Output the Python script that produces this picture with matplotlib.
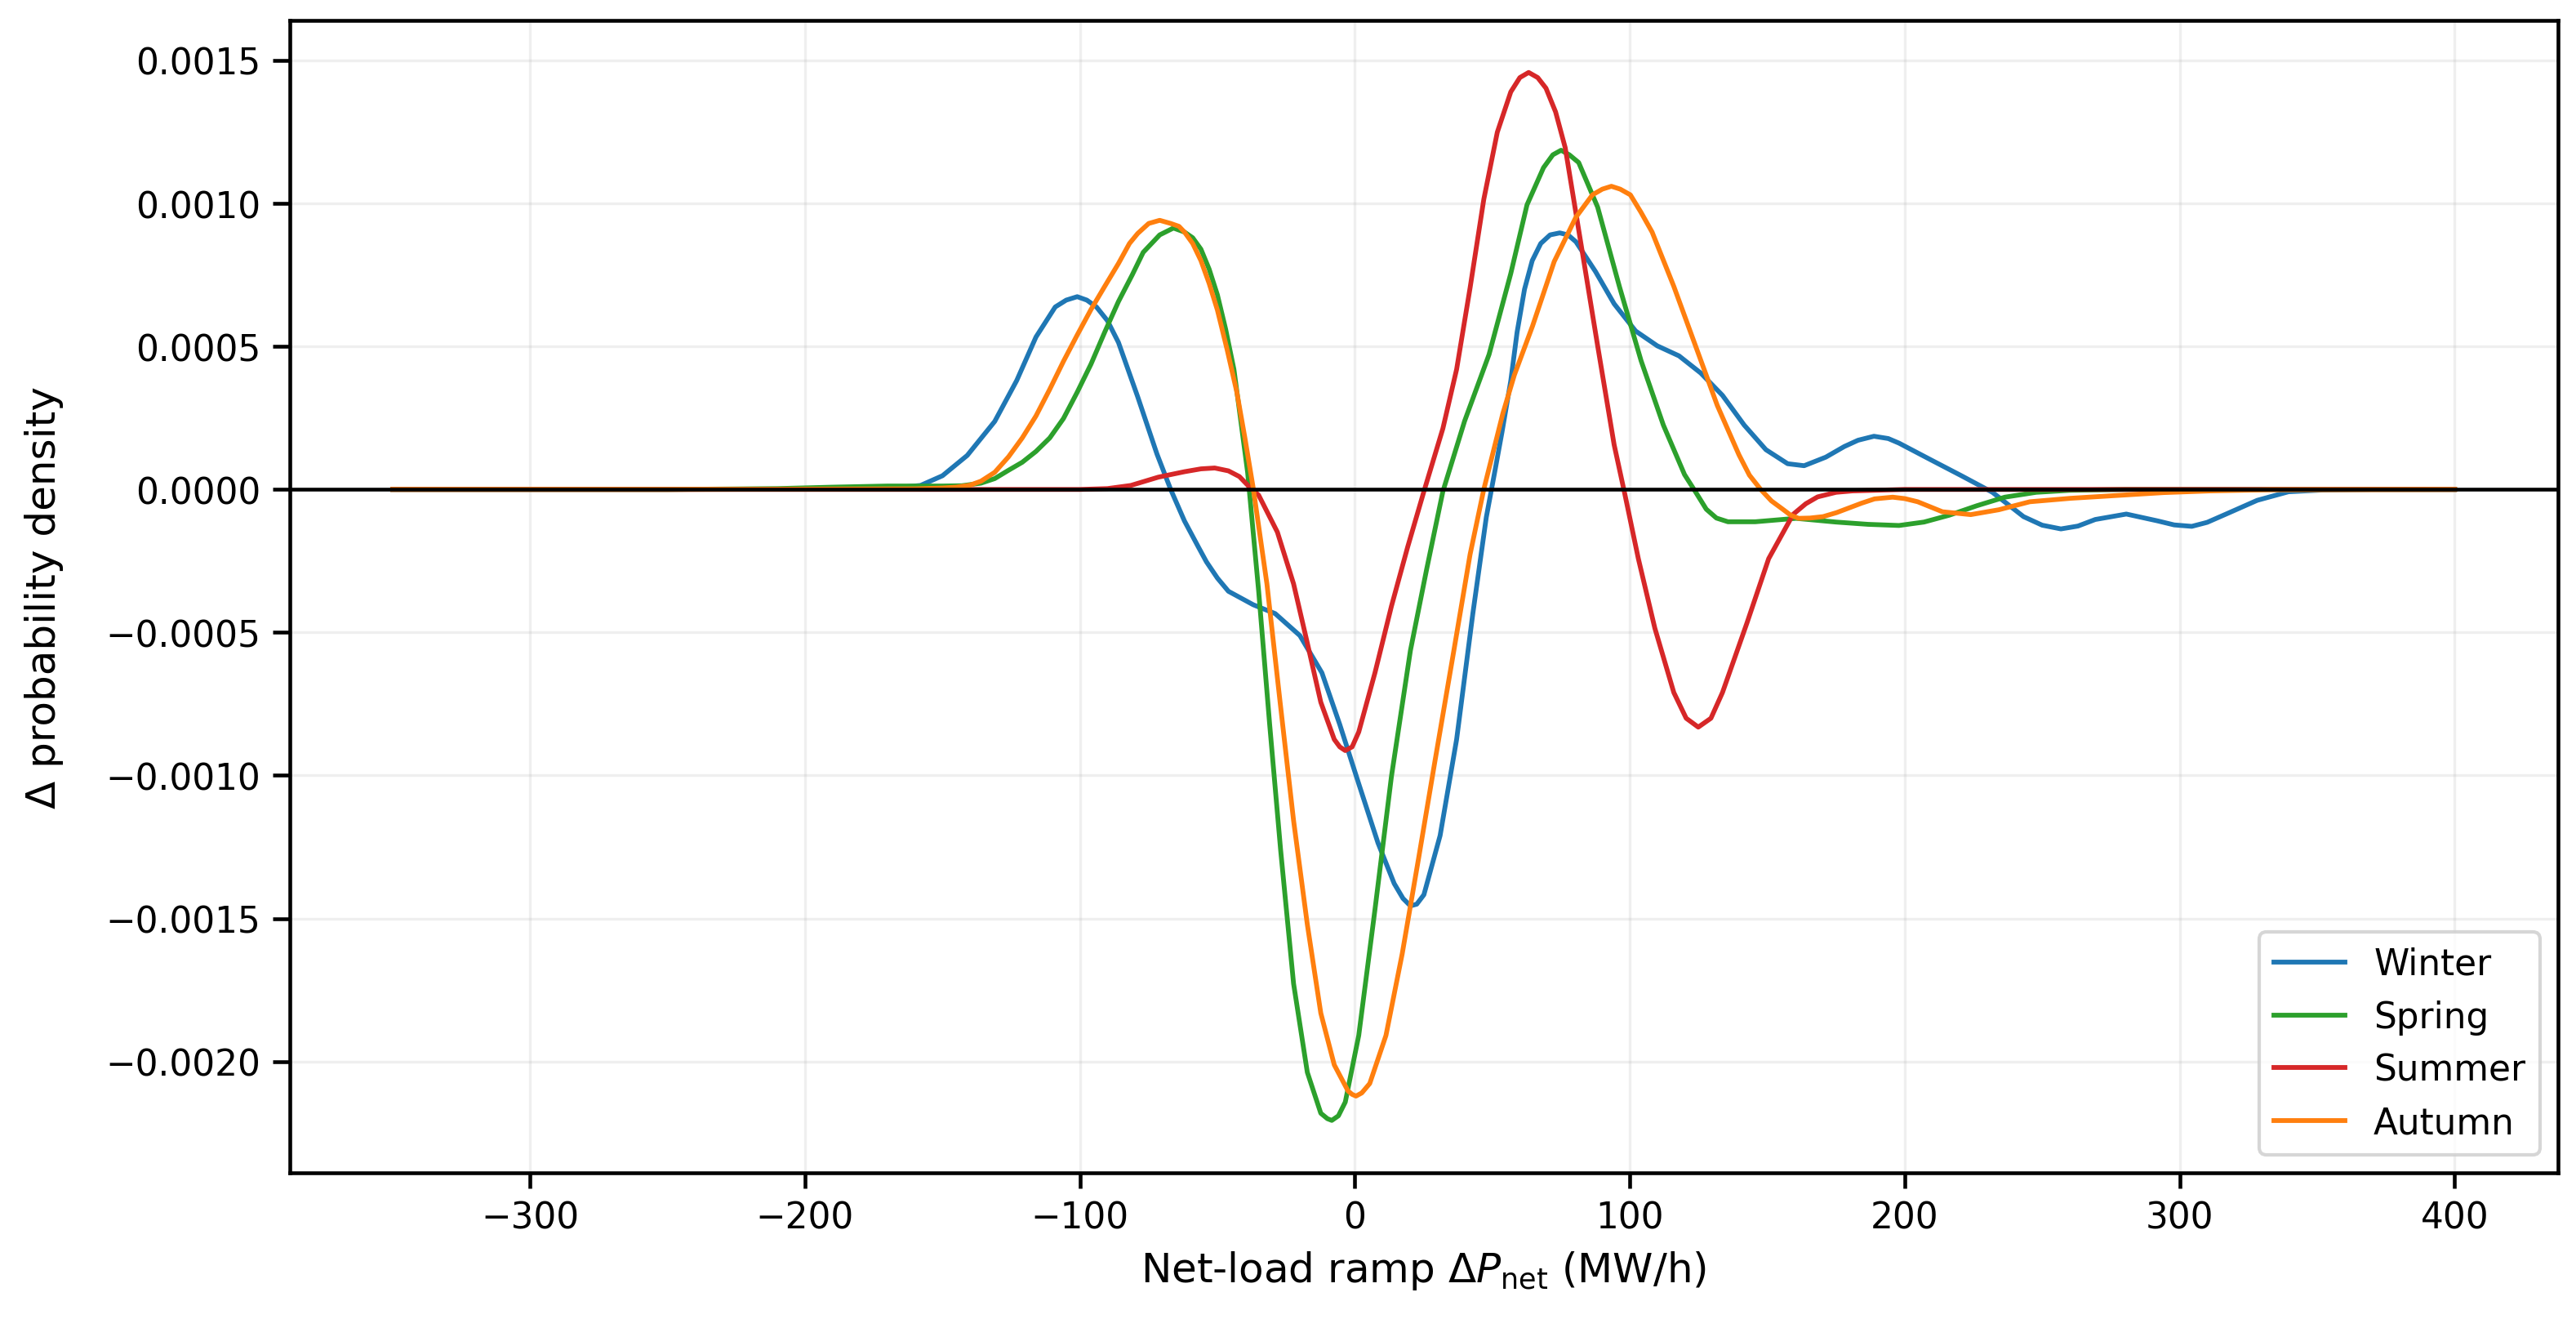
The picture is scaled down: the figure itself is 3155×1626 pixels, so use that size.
import matplotlib
matplotlib.use("Agg")
import matplotlib.pyplot as plt

# values
winter_x = [-350, -250, -200, -175, -165, -158, -150, -141, -131, -123, -116, -109, -105, -101, -97.5, -94, -90,
            -86, -79, -72, -67, -62, -57, -54, -50, -46, -37, -29, -20, -12, -5.5, 1.4, 8.4, 14.3, 17.5, 20.2,
            22.5, 25.1, 31, 37, 42.9, 47.8, 50.8, 53.5, 56.7, 59, 61.7, 64.5, 67.6, 71, 74.5, 77.5, 80.4, 87.5,
            94.3, 102.1, 110, 117.9, 125.8, 133.7, 141.6, 149.5, 157.4, 163.4, 171.3, 178, 183, 188.8, 194,
            197.9, 209.2, 220.6, 231.9, 243.2, 250, 256.8, 263, 269.3, 280.6, 292, 298, 304.4, 310, 316.9,
            328.2, 339.6, 352, 370, 400]
winter_y = [0, 0, 0.000002, 0.000005, 0.000008, 0.000014, 0.000048, 0.000119, 0.000238, 0.000381, 0.000533,
            0.000638, 0.000662, 0.000674, 0.000662, 0.000638, 0.000590, 0.000514, 0.000324, 0.000124, 0.0,
            -0.000110, -0.000200, -0.000253, -0.000310, -0.000356, -0.000403, -0.000434, -0.000511, -0.000641,
            -0.000822, -0.001029, -0.001236, -0.001378, -0.001430, -0.001456, -0.001450, -0.001417, -0.001210,
            -0.000874, -0.000434, -0.000097, 0.000058, 0.000200, 0.000380, 0.000550, 0.000700, 0.000800,
            0.000860, 0.000890, 0.000897, 0.000890, 0.000866, 0.000762, 0.000649, 0.000554, 0.000502, 0.000467,
            0.000407, 0.000329, 0.000225, 0.000139, 0.000090, 0.000083, 0.000113, 0.000150, 0.000172, 0.000186,
            0.000178, 0.000162, 0.000105, 0.000048, -0.000010, -0.000095, -0.000125, -0.000138, -0.000128,
            -0.000105, -0.000086, -0.000110, -0.000124, -0.000129, -0.000115, -0.000086, -0.000038, -0.000008,
            -0.000002, 0, 0]

spring_x = [-350, -250, -210, -190, -170, -150, -143, -136, -131, -126, -121, -116, -111, -106, -101, -96, -91,
            -86, -81, -77, -71, -66, -62, -59, -56, -53, -50, -47, -44, -41.5, -39, -35, -31, -27, -22.3, -17.3,
            -12.4, -10, -8.4, -6, -3.5, 1.4, 7.3, 13.3, 20.2, 26.1, 32, 39.9, 48.8, 56.7, 62.6, 68.6, 72, 75, 78,
            81.4, 88.3, 96.2, 104.1, 112.2, 119.9, 124, 127.8, 131.5, 135.7, 145.6, 160.4, 175, 186.7, 197.9,
            207, 216.2, 226.2, 236.4, 247.8, 260, 280, 400]
spring_y = [0, 0, 0.000003, 0.000008, 0.000012, 0.000012, 0.000013, 0.000022, 0.000038, 0.000067, 0.000095,
            0.000133, 0.000180, 0.000248, 0.000340, 0.000438, 0.000550, 0.000657, 0.000750, 0.000829, 0.000890,
            0.000914, 0.000900, 0.000880, 0.000840, 0.000770, 0.000680, 0.000560, 0.000420, 0.000240, 0.000058,
            -0.000356, -0.000822, -0.001262, -0.001728, -0.002038, -0.002181, -0.002200, -0.002206, -0.002190,
            -0.002142, -0.001909, -0.001469, -0.001003, -0.000563, -0.000279, -0.000007, 0.000239, 0.000472,
            0.000755, 0.000995, 0.001125, 0.001170, 0.001186, 0.001170, 0.001143, 0.000987, 0.000710, 0.000450,
            0.000225, 0.000052, -0.000010, -0.000069, -0.000100, -0.000113, -0.000113, -0.000101, -0.000114,
            -0.000122, -0.000126, -0.000114, -0.000090, -0.000057, -0.000027, -0.000010, -0.000003, 0, 0]

summer_x = [-350, -100, -90, -81.5, -71.5, -62, -56, -51, -46, -42, -38.5, -35, -28.2, -22.3, -17.3, -12.4, -7.5,
            -5.5, -3.5, -1, 1.4, 7.3, 13.3, 19.2, 25.1, 32, 37, 41.9, 46.9, 51.8, 56.7, 60, 63.2, 66.5, 69.5, 73,
            76.5, 82.4, 88.3, 94.3, 98.2, 103.1, 109.1, 116, 120.5, 124.9, 129.5, 133.7, 142.6, 150.5, 159.4,
            164, 168.3, 175, 181, 200, 400]
summer_y = [0, 0, 0.000003, 0.000014, 0.000043, 0.000062, 0.000072, 0.000075, 0.000065, 0.000045, 0.000010,
            -0.000020, -0.000149, -0.000330, -0.000537, -0.000744, -0.000874, -0.000900, -0.000913, -0.000900,
            -0.000848, -0.000641, -0.000408, -0.000201, -0.000007, 0.000213, 0.000420, 0.000705, 0.001015,
            0.001249, 0.001390, 0.001440, 0.001458, 0.001440, 0.001403, 0.001320, 0.001195, 0.000849, 0.000502,
            0.000156, -0.000017, -0.000242, -0.000485, -0.000710, -0.000800, -0.000831, -0.000800, -0.000710,
            -0.000467, -0.000242, -0.000087, -0.000050, -0.000026, -0.000010, -0.000005, 0, 0]

autumn_x = [-350, -250, -160, -150, -145, -140, -136, -131, -126, -121, -116, -111, -106, -101, -96, -91, -86,
            -82, -79, -75, -71, -67, -64, -62, -59, -56, -53, -50, -46.5, -43, -40, -37, -32, -27.2, -22.3,
            -17.3, -12.4, -7.5, -2.5, -1, 0.4, 2.5, 5.4, 11.3, 17.2, 23.2, 29.1, 36, 41.9, 46.9, 53.8, 58, 64.6,
            72.5, 80.4, 86.4, 90, 93.3, 96.5, 100.2, 104, 108.1, 116, 123.9, 131.8, 139.7, 143.5, 147.6, 151.5,
            155.6, 158.5, 161.4, 165.5, 170.3, 175.2, 184.3, 189, 195.6, 200, 204.7, 213.7, 224, 234.2, 245.5,
            260.2, 277.2, 294.2, 311.2, 333, 400]
autumn_y = [0, 0, 0.000002, 0.000005, 0.000008, 0.000015, 0.000029, 0.000060, 0.000114, 0.000180, 0.000257,
            0.000350, 0.000448, 0.000540, 0.000629, 0.000710, 0.000790, 0.000860, 0.000895, 0.000930, 0.000941,
            0.000930, 0.000920, 0.000900, 0.000860, 0.000800, 0.000720, 0.000627, 0.000490, 0.000343, 0.000180,
            0.000006, -0.000330, -0.000744, -0.001158, -0.001521, -0.001831, -0.002012, -0.002103, -0.002115,
            -0.002121, -0.002110, -0.002077, -0.001909, -0.001624, -0.001288, -0.000951, -0.000563, -0.000227,
            0.000001, 0.000265, 0.000400, 0.000571, 0.000797, 0.000952, 0.001030, 0.001050, 0.001060, 0.001050,
            0.001030, 0.000970, 0.000900, 0.000710, 0.000502, 0.000294, 0.000121, 0.000050, 0.0, -0.000040,
            -0.000069, -0.000090, -0.000101, -0.000100, -0.000095, -0.000081, -0.000048, -0.000033, -0.000027,
            -0.000032, -0.000043, -0.000078, -0.000088, -0.000071, -0.000043, -0.000031, -0.000021, -0.000011,
            -0.000005, -0.000001, 0]

seasons = ["Winter", "Spring", "Summer", "Autumn"]
colors = ["#1f77b4", "#2ca02c", "#d62728", "#ff7f0e"]

plt.rcParams['font.family'] = ['DejaVu Sans']
plt.rcParams['axes.linewidth'] = 1.1
plt.rcParams['xtick.major.width'] = 1.1
plt.rcParams['ytick.major.width'] = 1.1
plt.rcParams['xtick.major.size'] = 4.5
plt.rcParams['ytick.major.size'] = 5

fig = plt.figure(figsize=(3155 / 300, 1627 / 300), dpi=300)
ax = fig.add_axes([0.1124, 0.1168, 0.8805, 0.8675])

series = [(winter_x, winter_y), (spring_x, spring_y), (summer_x, summer_y), (autumn_x, autumn_y)]
for (xs, ys), name, c in zip(series, seasons, colors):
    ax.plot(xs, ys, color=c, linewidth=1.4, label=name, solid_joinstyle='round')

ax.axhline(0, color='black', linewidth=1.1, zorder=3)
ax.grid(True, alpha=0.2)
ax.set_xlabel(r"Net-load ramp $\Delta P_{\rm net}$ (MW/h)", fontsize=12)
ax.set_ylabel("Δ probability density", fontsize=12)
ax.yaxis.set_label_coords(-0.0996, 0.5)
ax.tick_params(labelsize=10.5)
ax.legend(loc='lower right', fontsize=10.5)

fig.savefig("out.png", dpi=300)
